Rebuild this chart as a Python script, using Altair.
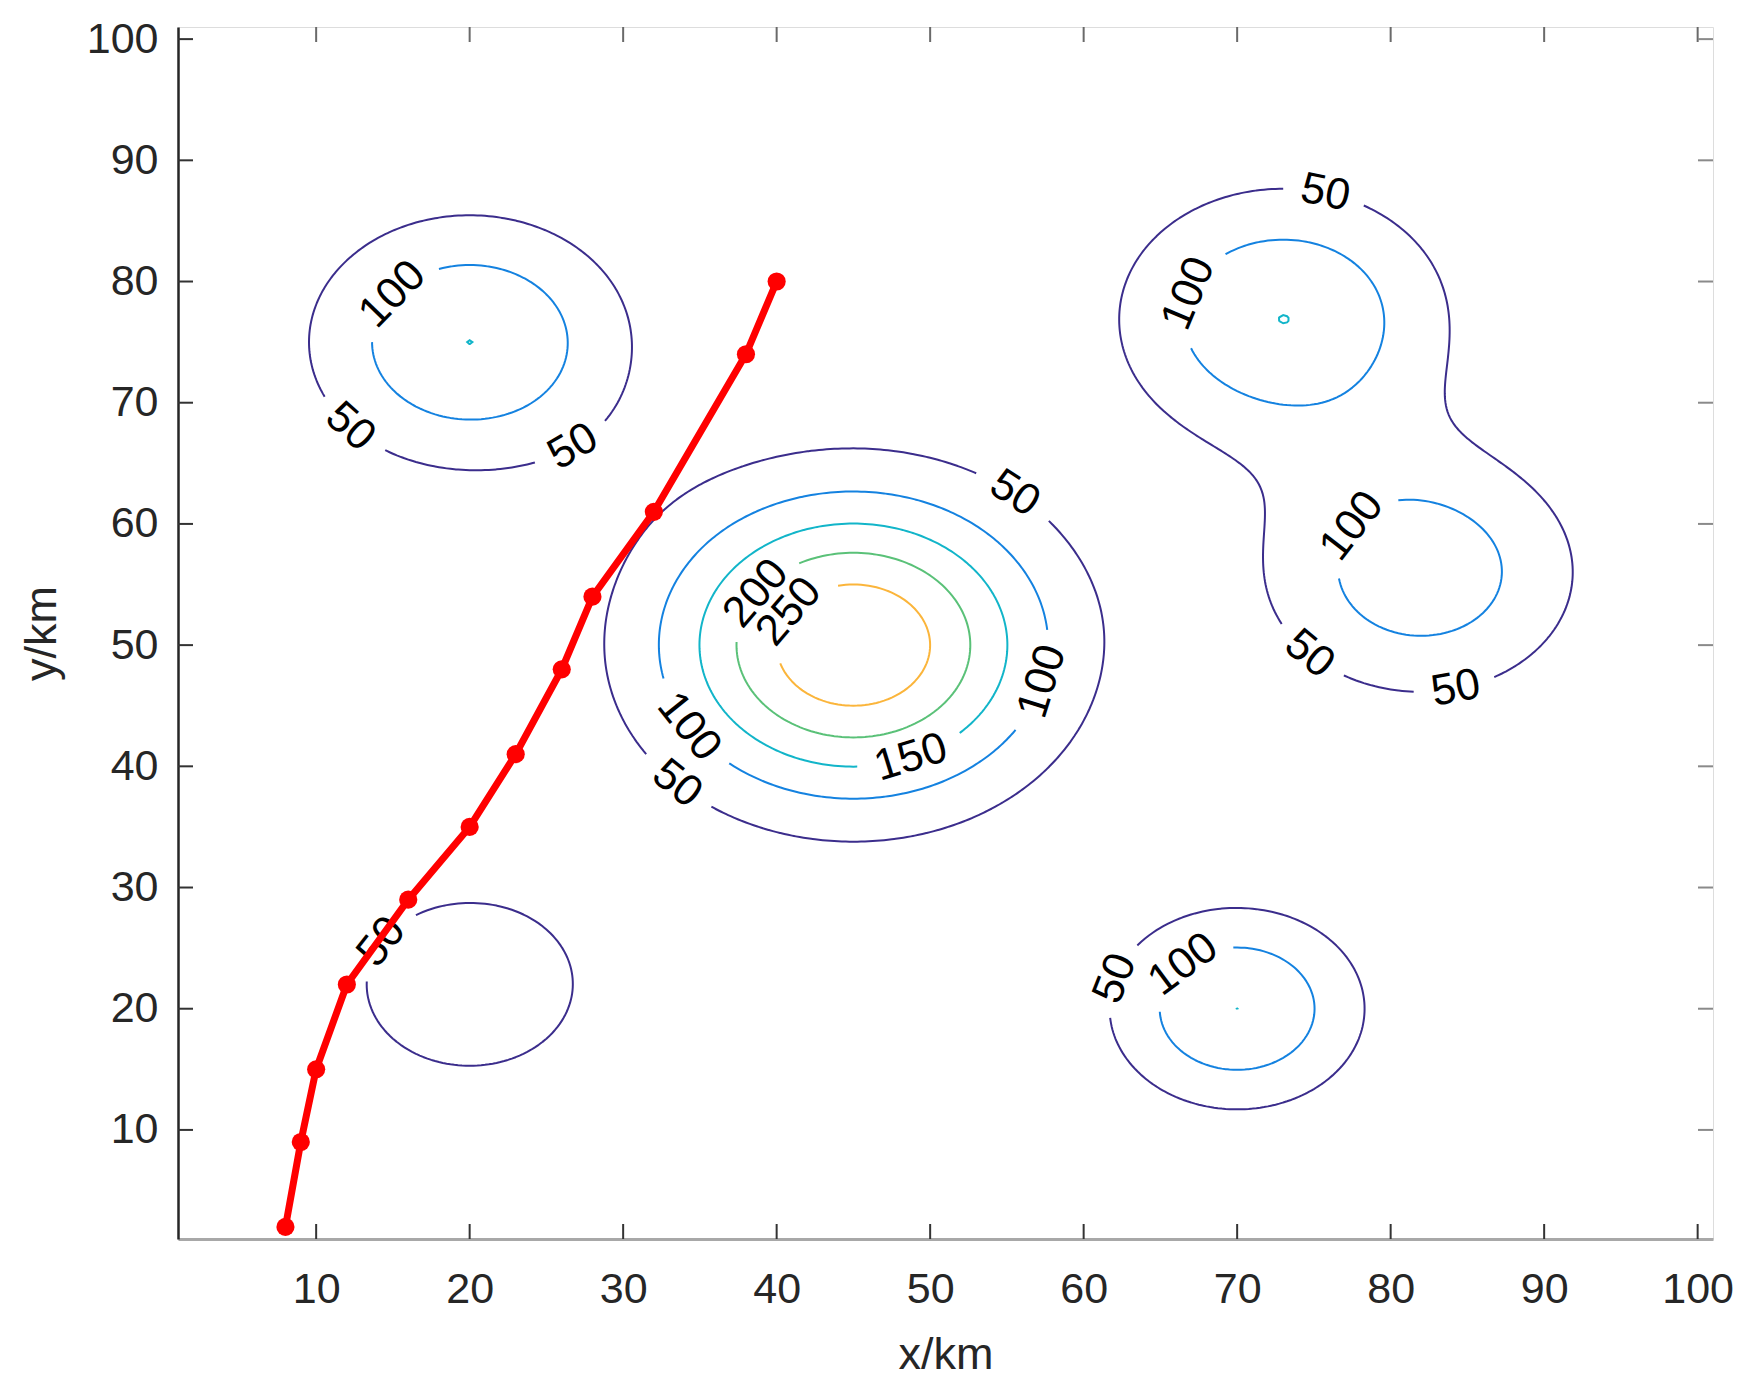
import numpy as np
import pandas as pd
import altair as alt

# ---- data ----
# threat peaks: centre x, centre y, peak value, spread
peak_x = [45, 20, 20, 70, 73, 82]
peak_y = [50, 75, 22, 20, 77, 56]
peak_a = [296, 150, 99.9, 150, 149.4, 131]
peak_s = [8.6, 7.06, 5.7, 5.6, 7.2, 7.1]

levels = [50, 100, 150, 200, 250]
level_colors = ["#3b2d8c", "#1482e0", "#12b5c9", "#5ac178", "#fbb53b"]

# red path
path_x = [8, 9, 10, 12, 16, 20, 23, 26, 28, 32, 38, 40]
path_y = [2, 9, 15, 22, 29, 35, 41, 48, 54, 61, 74, 80]

# contour labels (level, approx x, approx y)
label_level = [100, 50, 50, 50, 200, 250, 100, 150, 100, 50, 50, 100, 100, 50, 50, 50, 100, 50]
label_x = [15.4, 12.0, 26.7, 55.4, 39.2, 41.5, 57.2, 48.5, 34.4, 33.4, 75.6, 67.8, 78.5, 74.7, 84.2, 62.7, 66.7, 14.9]
label_y = [78.4, 67.9, 66.4, 62.0, 53.7, 52.1, 47.0, 41.5, 43.3, 38.4, 86.8, 78.4, 58.8, 49.3, 46.5, 22.3, 23.2, 25.0]

ticks = [10, 20, 30, 40, 50, 60, 70, 80, 90, 100]

W, H = 1535, 1212
FS = 43      # tick labels
LFS = 44     # contour labels

# ---- field on a grid and contour tracing ----
gx = np.linspace(1, 101, 401)
gy = np.linspace(1, 101, 401)
GX, GY = np.meshgrid(gx, gy)
Z = np.zeros_like(GX)
for px_, py_, a_, s_ in zip(peak_x, peak_y, peak_a, peak_s):
    Z += a_ * np.exp(-((GX - px_) ** 2 + (GY - py_) ** 2) / (2 * s_ * s_))


def contour(level):
    above = Z > level
    a = above[:-1, :-1]; b = above[:-1, 1:]; c = above[1:, 1:]; d = above[1:, :-1]
    mixed = ~((a == b) & (b == c) & (c == d))
    js, iss = np.nonzero(mixed)
    pos, adj = {}, {}

    def ept(key):
        if key in pos:
            return
        kind, i, j = key
        if kind == 'h':
            z0, z1 = Z[j, i], Z[j, i + 1]
            t = (level - z0) / (z1 - z0)
            pos[key] = (gx[i] + t * (gx[i + 1] - gx[i]), gy[j])
        else:
            z0, z1 = Z[j, i], Z[j + 1, i]
            t = (level - z0) / (z1 - z0)
            pos[key] = (gx[i], gy[j] + t * (gy[j + 1] - gy[j]))

    def link(e1, e2):
        ept(e1); ept(e2)
        adj.setdefault(e1, []).append(e2)
        adj.setdefault(e2, []).append(e1)

    for j, i in zip(js, iss):
        za, zb, zc, zd = Z[j, i], Z[j, i + 1], Z[j + 1, i + 1], Z[j + 1, i]
        sa, sb, sc, sd = za > level, zb > level, zc > level, zd > level
        E = {'bottom': ('h', i, j), 'right': ('v', i + 1, j),
             'top': ('h', i, j + 1), 'left': ('v', i, j)}
        cr = []
        if sa != sb: cr.append('bottom')
        if sb != sc: cr.append('right')
        if sc != sd: cr.append('top')
        if sd != sa: cr.append('left')
        if len(cr) == 2:
            link(E[cr[0]], E[cr[1]])
        elif len(cr) == 4:
            cen = (za + zb + zc + zd) / 4 > level
            if cen == sa:
                link(E['bottom'], E['right']); link(E['top'], E['left'])
            else:
                link(E['left'], E['bottom']); link(E['right'], E['top'])

    visited = set()

    def walk(start):
        p = [start]; visited.add(start); cur = start
        while True:
            nxt = [n for n in adj[cur] if n not in visited]
            if not nxt:
                break
            cur = nxt[0]; visited.add(cur); p.append(cur)
        return p

    out = []
    for k, v in adj.items():
        if len(v) == 1 and k not in visited:
            out.append((np.array([pos[q] for q in walk(k)]), False))
    for k in adj:
        if k not in visited:
            out.append((np.array([pos[q] for q in walk(k)]), True))
    return out


def to_px(arr):
    return (arr[:, 0] - 1) / 100 * W, (101 - arr[:, 1]) / 100 * H


level_paths = {lv: contour(lv) for lv in levels}

# ---- place labels on contours ----
gaps = {}
lab_rows = []
for lv, lx, ly in zip(label_level, label_x, label_y):
    tx, ty = (lx - 1) / 100 * W, (101 - ly) / 100 * H
    best = None
    for pi, (arr, closed) in enumerate(level_paths[lv]):
        ppx, ppy = to_px(arr)
        dd = (ppx - tx) ** 2 + (ppy - ty) ** 2
        k = int(np.argmin(dd))
        if best is None or dd[k] < best[0]:
            best = (dd[k], pi, k)
    _, pi, k = best
    arr, closed = level_paths[lv][pi]
    ppx, ppy = to_px(arr)
    n = len(arr)
    step = 5
    if closed:
        k0, k1 = (k - step) % n, (k + step) % n
    else:
        k0, k1 = max(k - step, 0), min(k + step, n - 1)
    ang = np.degrees(np.arctan2(ppy[k1] - ppy[k0], ppx[k1] - ppx[k0]))
    if ang > 90:
        ang -= 180
    if ang <= -90:
        ang += 180
    text = str(lv)
    r = len(text) * 0.556 * LFS / 2 + 15
    gaps.setdefault((lv, pi), []).append((ppx[k], ppy[k], r, k))
    lab_rows.append({"x": arr[k, 0], "y": arr[k, 1], "text": text, "angle": ang % 360})

# ---- build contour line rows with gaps ----
rows = []
seg_id = 0
for lv, col in zip(levels, level_colors):
    for pi, (arr, closed) in enumerate(level_paths[lv]):
        ppx, ppy = to_px(arr)
        keep = np.ones(len(arr), dtype=bool)
        g = gaps.get((lv, pi), [])
        for cx, cy, r, _ in g:
            keep &= (ppx - cx) ** 2 + (ppy - cy) ** 2 > r * r
        if closed and keep.all():
            runs = [np.concatenate([arr, arr[:1]])]
        else:
            if closed:
                start = g[0][3]
                idx = np.r_[start:len(arr), 0:start]
                arr2, keep2 = arr[idx], keep[idx]
            else:
                arr2, keep2 = arr, keep
            runs, cur = [], []
            for p, kp in zip(arr2, keep2):
                if kp:
                    cur.append(p)
                elif cur:
                    runs.append(np.array(cur)); cur = []
            if cur:
                runs.append(np.array(cur))
        for run in runs:
            if len(run) < 2:
                continue
            for o, (x, y) in enumerate(run):
                rows.append({"x": x, "y": y, "seg": seg_id, "ord": o, "color": col})
            seg_id += 1

cdf = pd.DataFrame(rows)
ldf = pd.DataFrame(lab_rows)
pdf = pd.DataFrame({"x": path_x, "y": path_y})
tdf = pd.DataFrame({"x": ticks, "y": ticks})

FONT = "Liberation Sans"
xscale = alt.Scale(domain=[1, 101], nice=False, zero=False)
yscale = alt.Scale(domain=[1, 101], nice=False, zero=False)
xaxis = alt.Axis(values=ticks, title="x/km", labelFontSize=FS, titleFontSize=45,
                 labelFont=FONT, titleFont=FONT, ticks=False, domain=True,
                 domainColor="#a8a8a8", domainWidth=3, grid=False,
                 labelPadding=29, titleX=W / 2, titleY=129, titleBaseline="alphabetic",
                 labelColor="#262626", titleColor="#262626", titleFontWeight="normal")
yaxis = alt.Axis(values=ticks, title="y/km", labelFontSize=FS, titleFontSize=45,
                 labelFont=FONT, titleFont=FONT, ticks=False, domain=True,
                 domainColor="#262626", domainWidth=2.5, grid=False,
                 labelPadding=20, titleX=-123, titleY=H / 2, titleBaseline="alphabetic",
                 titleAngle=270, labelColor="#262626", titleColor="#262626",
                 titleFontWeight="normal")
X = alt.X("x:Q", scale=xscale, axis=xaxis)
Y = alt.Y("y:Q", scale=yscale, axis=yaxis)

lines = alt.Chart(cdf).mark_line(strokeWidth=2).encode(
    x=X, y=Y, detail="seg:N", order="ord:Q", color=alt.Color("color:N", scale=None))

labels = alt.Chart(ldf).mark_text(font=FONT, fontSize=LFS, color="black",
                                  align="center", baseline="middle").encode(
    x=X, y=Y, text="text:N", angle=alt.Angle("angle:Q", scale=None))

TL = 15
tick_col = "#333333"
bt = alt.Chart(tdf).mark_rule(color=tick_col, strokeWidth=2).encode(
    x=X, y=alt.value(H), y2=alt.value(H - TL))
tt = alt.Chart(tdf).mark_rule(color="#6a6a6a", strokeWidth=2).encode(
    x=X, y=alt.value(0), y2=alt.value(TL))
lt = alt.Chart(tdf).mark_rule(color=tick_col, strokeWidth=2).encode(
    y=Y, x=alt.value(0), x2=alt.value(TL))
rt = alt.Chart(tdf).mark_rule(color="#8a8a8a", strokeWidth=2).encode(
    y=Y, x=alt.value(W), x2=alt.value(W - TL))

red_line = alt.Chart(pdf).mark_line(color="#ff0000", strokeWidth=7).encode(x=X, y=Y, order="x:Q")
red_pts = alt.Chart(pdf).mark_circle(color="#ff0000", size=330, opacity=1).encode(x=X, y=Y)

chart = alt.layer(lines, labels, bt, tt, lt, rt, red_line, red_pts).properties(
    width=W, height=H,
    autosize=alt.AutoSizeParams(type="none"),
    padding={"left": 170, "top": 19, "right": 20, "bottom": 150},
).configure_view(stroke="#8a8a8a", strokeWidth=3).configure(background="white")

chart.save("out.html", embed_options={"renderer": "svg", "actions": False})
